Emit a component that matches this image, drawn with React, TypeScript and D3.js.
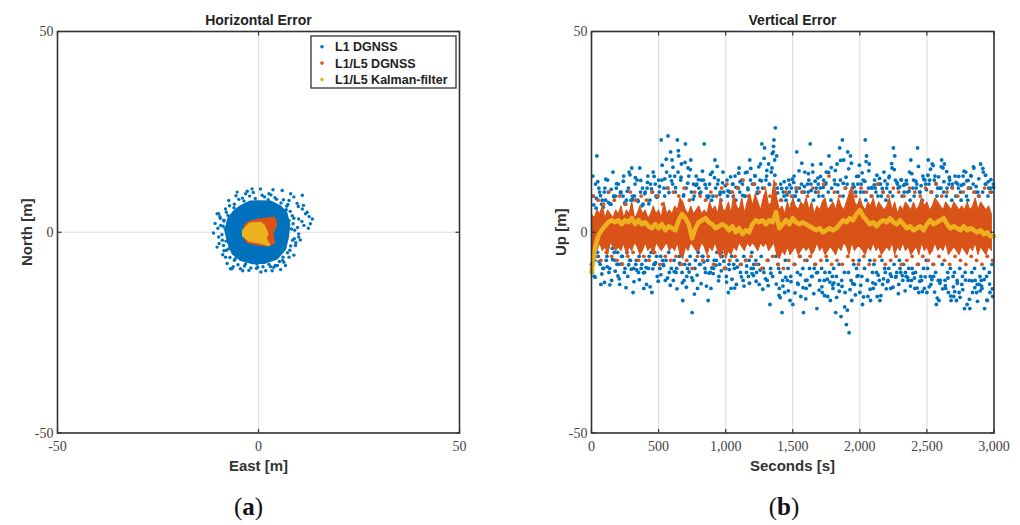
import React from "react";
import * as d3 from "d3";

const BLUE = "#0072BD";
const ORANGE = "#D95319";
const YELLOW = "#EDB120";
const AXIS = "#333333";
const GRID = "#dedede";

// ---------- (a) Horizontal error: [east, north] in metres ----------
const hAxisTicks = [-50, 0, 50];
const hBlueCore: [number, number][] = [
  [-4.3, 6.3], [-2.1, 7.4], [0.1, 7.5], [3.0, 7.4], [5.2, 6.3], [6.7, 4.8], [7.4, 1.9],
  [7.1, -1.1], [6.4, -4.1], [4.5, -6.3], [1.5, -7.4], [-1.4, -7.5], [-4.3, -6.7],
  [-6.2, -5.2], [-7.3, -2.6], [-8.0, 0.4], [-7.3, 3.3], [-5.9, 5.1],
];
const hBlueDots: [number, number][] = [
  [13.4, 3.3], [12.1, 5.0], [10.9, 9.2], [-10.3, 4.6], [-9.9, -1.2], [-6.6, -9.1], [-1.6, 10.8],
  [0.5, 10.8], [8.0, 9.6], [10.0, -1.2], [4.7, -8.3], [-5.3, 10.0], [5.9, 10.4], [8.8, 8.8],
  [-9.9, 4.6], [-8.6, 3.0], [-9.4, 1.7], [10.9, 5.8], [11.7, 4.6], [10.0, 3.3], [11.3, 1.7],
  [-10.3, -3.7], [-8.6, -4.6], [-8.2, -6.2], [-7.0, -9.1], [-4.5, -9.1], [-2.4, -9.5],
  [-0.2, -8.7], [4.2, -8.3], [6.3, -7.5], [7.6, -6.2], [9.2, -3.3], [10.0, -0.4], [-7.4, 7.9],
  [-8.2, 5.8], [-3.2, 9.6], [2.6, 9.6], [7.6, 7.9], [-6.0, 7.0], [-4.0, 8.5], [1.5, 8.8],
  [4.5, 8.2], [7.0, 6.5], [8.8, 3.5], [9.0, 0.5], [8.5, -2.0], [7.8, -4.5], [6.0, -7.0],
  [3.0, -8.6], [-0.5, -9.0], [-3.5, -8.4], [-6.0, -7.0], [-8.0, -4.5], [-9.0, -2.0],
  [-8.8, 1.5], [-8.0, 5.0], [-9.5, 3.5], [-10.8, 2.2], [9.6, 7.2], [12.4, 1.0], [5.5, -9.3],
  [-2.8, 10.2], [3.6, 10.6], [-7.8, -7.8], [1.8, -9.6], [-11.2, -0.2],
  [8.2, 0.8], [8.9, -1.6], [7.6, 2.9], [8.4, 4.1], [6.9, 5.6], [7.3, 6.9], [5.6, 7.3],
  [4.1, 8.6], [2.4, 8.1], [0.9, 9.2], [-0.8, 8.4], [-2.2, 9.0], [-3.6, 7.8], [-4.9, 8.2],
  [-6.1, 6.1], [-7.2, 6.6], [-7.6, 4.2], [-8.6, 2.8], [-8.3, 0.9], [-9.1, -0.6], [-8.1, -2.2],
  [-8.7, -3.3], [-7.4, -4.1], [-7.1, -6.3], [-5.8, -6.6], [-5.1, -8.1], [-3.2, -7.9],
  [-1.9, -8.9], [-0.4, -7.9], [1.1, -8.6], [2.6, -8.0], [3.8, -8.7], [5.2, -7.3], [6.1, -6.2],
  [7.2, -5.1], [8.0, -3.4], [8.6, 2.1], [9.7, 1.2], [9.3, -2.6], [7.9, 5.2], [6.2, 8.1],
  [3.1, 9.3], [-1.3, 9.9], [-5.6, 9.1], [-9.6, 3.9], [-10.1, 1.0], [-9.8, -2.8], [-8.9, -5.6],
  [-6.3, -8.6], [-3.9, -9.6], [0.6, -9.9], [3.4, -9.6], [6.7, -8.3], [8.8, -5.7], [10.4, -1.9],
  [10.8, 2.7], [9.9, 6.4], [11.2, 6.7], [12.6, 3.9], [12.9, 2.1],
];
const hOrangeCore: [number, number][] = [
  [-2.4, 2.5], [0.1, 3.1], [3.9, 3.6], [4.4, 2.1], [3.4, -0.4], [3.9, -2.5], [2.3, -3.3],
  [-0.6, -2.9], [-2.7, -2.5], [-3.7, -0.4], [-3.3, 1.7],
];
const hYellowCore: [number, number][] = [
  [-2.2, 2.1], [0.5, 2.3], [1.3, 1.7], [2.2, -0.4], [1.7, -1.6], [2.6, -3.1], [0.1, -2.5],
  [-2.2, -2.1], [-3.8, -0.8], [-3.8, 0.4], [-3.0, 1.2],
];

// ---------- (b) Vertical error ----------
const vXTicks = [0, 500, 1000, 1500, 2000, 2500, 3000];
const vYTicks = [-50, 0, 50];
// L1 DGNSS, samples every 10 s starting at 0 s
const blueA = [
  -8, 14, -11, 12, 19, -6, 10, -13, 8, -9,
  11, -7, 13, -10, 7, -12, 15, -5, 9, -8,
  12, -13, 10, -6, 14, -9, 8, -11, 15, -7,
  16, -15, 9, -8, 13, -10, 16, -9, 11, -14,
  10, -13, 14, -6, 12, -15, 15, -8, 9, -11,
  13, -9, 23, -7, 11, -12, 15, 24, -10, 20,
  18, -12, 14, -10, 23, 19, -8, 17, -17, -12,
  22, -11, 16, -8, 18, -20, 12, -9, 14, -14,
  11, -8, 13, -6, 22, -10, 9, -17, 12, -14,
  15, -9, 18, -7, 12, -11, 10, -5, 15, -4,
  -9, 13, -15, 10, -14, 12, -8, 14, -13, 11,
  16, -10, 13, -12, 9, -7, 15, -11, 18, -9,
  12, -8, 14, -10, 11, -13, 17, 22, -9, 21,
  13, -12, 17, -18, 15, -11, 23, 26, 19, -8,
  -14, 12, -20, 10, -15, 8, -12, 13, -17, 11,
  -18, 14, 9, 20, -13, 11, -16, 10, -20, 15,
  -14, 12, 13, 22, -11, 15, -9, 10, -19, 12,
  -12, 17, -15, 13, -10, 15, -16, 19, -17, 11,
  -14, 13, -20, 17, -13, 21, -21, 23, 18, -15,
  -23, 20, -25, 19, -17, 12, -13, 10, -11, 14,
  -15, 12, -18, 10, 23, 19, -16, 17, -17, 11,
  -14, 13, 10, -16, 12, -17, 9, -13, 15, -10,
  11, -12, 14, -14, 16, 21, 19, -11, 12, -13,
  -9, 13, -12, 10, -10, 12, -12, 15, 18, -9,
  13, -14, 11, 21, -15, 10, -12, 14, -14, 12,
  -15, 18, 13, -13, 17, -11, 14, -18, 11, -17,
  -12, 18, 16, 17, -14, 11, -15, 13, -17, 12,
  -16, 14, -17, 12, -15, 10, -13, 14, -19, 15,
  -18, 11, -19, 14, -15, 16, -12, -15, 10, -13,
  17, -14, 15, -19, 12, -17, 11, -15, 10, -16,
];
// L1 DGNSS, samples every 10 s starting at 5 s
const blueB = [
  -10, 9, -7, 6, -5, 11, -8, 7, -9, 10,
  8, -6, 10, -9, 7, -4, 9, -7, 11, -5,
  -8, 10, -6, 9, -10, 7, -5, 11, -7, 8,
  9, -9, 12, -7, 8, -6, 10, -8, 7, -10,
  -7, 11, -9, 8, -5, 10, -8, 12, -6, 9,
  10, -6, 13, -8, 9, -7, 11, -5, 14, -9,
  12, -7, 10, -9, 15, -6, 13, -10, 9, -8,
  11, -9, 14, -6, 10, -12, 9, -7, 12, -5,
  -8, 10, -6, 13, -9, 11, -7, 9, -10, 8,
  9, -7, 11, -5, 13, -8, 8, -6, 10, -9,
  -11, 9, -8, 10, -6, 12, -9, 8, -7, 11,
  10, -8, 12, -6, 9, -10, 11, -7, 13, -5,
  -9, 12, -7, 10, -8, 13, -6, 11, -10, 9,
  14, -7, 12, -9, 16, 20, 18, -6, 11, -9,
  -10, 8, -12, 9, -7, 11, -9, 10, -11, 7,
  9, -8, 11, -10, 8, -6, 12, -9, 10, -12,
  -7, 10, -9, 12, -11, 8, -8, 11, -10, 9,
  11, -9, 9, -12, 12, -7, 10, -10, 8, -11,
  -9, 12, -11, 10, -8, 13, -12, 9, -10, 11,
  12, -10, 9, -12, 11, -8, 10, -9, 12, -7,
  10, -11, 13, -9, 8, -12, 11, -7, 9, -10,
  -8, 11, -10, 9, -12, 12, -7, 10, -9, 8,
  12, -9, 10, -11, 9, -8, 13, -10, 11, -7,
  -10, 9, -8, 12, -11, 10, -9, 8, -12, 11,
  9, -10, 12, -8, 10, -11, 8, -9, 13, -7,
  -9, 12, -11, 10, -8, 13, -10, 9, -12, 11,
  11, -8, 10, -12, 9, -10, 12, -9, 8, -11,
  -10, 9, -12, 11, -9, 8, -11, 12, -10, 9,
  8, -12, 11, -10, 12, -9, 10, -13, 9, -11,
  -12, 10, -9, 12, -11, 9, -10, 11, -8, 12,
];
// L1 DGNSS, samples every 10 s starting at 7 s
const blueC = [
  -9.5, 6.8, -11.2, 8.4, 12.6, -7.3, 9.1, -10.4, 6.2, -12.5,
  13.2, -8.6, 7.4, -13.1, 10.7, -6.8, 8.9, -9.7, 12.1, -10.9,
  -11.6, 9.8, -7.9, 12.7, 7.3, -13.8, 10.2, -8.1, 14.3, -9.2,
  8.1, -12.3, 13.6, -9.4, 7.7, -11.8, 12.9, 6.6, -10.1, 9.6,
  -8.8, 12.4, 7.1, -13.6, 10.8, -9.1, 13.9, -7.6, 8.7, -12.2,
  11.4, -10.6, 16.7, -8.3, 13.3, 18.2, -11.4, 9.9, -13.2, 12.8,
  16.2, -9.8, 11.1, -14.1, 20.3, -7.7, 13.7, -12.6, 9.3, 17.4,
  -13.7, 12.2, -9.9, 15.6, -11.3, 8.2, -15.4, 11.7, -10.7, 13.1,
  9.7, -12.8, 15.2, -7.4, 11.9, -13.4, 8.6, -10.2, 14.4, -8.9,
  -10.3, 13.6, -8.2, 16.4, -12.1, 9.4, -9.6, 12.3, -7.2, 11.6,
  -12.4, 10.3, -9.3, 13.8, -11.7, 8.9, -13.9, 11.2, -8.7, 14.7,
  12.6, -11.1, 9.2, -13.4, 14.8, -8.4, 10.6, -12.7, 15.9, -10.3,
  -10.8, 14.1, -12.2, 9.7, 16.3, -9.4, 12.8, -14.2, 18.4, -11.6,
  15.4, -13.3, 11.9, -10.2, 19.6, 21.4, 14.2, -12.9, 9.8, -15.7,
  -16.3, 10.9, -13.4, 12.6, -11.2, 9.3, -14.6, 11.8, -12.3, 13.2,
  12.4, -15.1, 10.1, -12.7, 15.3, -10.6, 17.2, -13.8, 11.4, -16.6,
  -11.9, 14.6, -13.2, 10.4, 16.8, -15.3, 12.7, -10.1, 13.5, -14.4,
  13.9, -13.6, 11.2, -15.8, 12.3, -11.7, 14.9, -12.4, 16.1, -13.1,
  -12.6, 15.4, -16.2, 11.8, -14.7, 17.9, -13.5, 12.2, -18.6, 13.7,
  -19.4, 15.8, -14.3, 17.2, -12.8, 11.3, -15.6, 13.9, -10.8, 16.7,
  -13.2, 14.8, -16.1, 12.7, 17.6, -11.9, 15.3, -14.2, 11.1, -12.6,
  11.8, -12.9, 14.2, -10.7, 13.4, -15.8, 10.9, -11.6, 12.8, -14.1,
  -12.3, 13.6, -10.4, 17.1, -13.7, 15.6, -11.2, 12.4, -15.3, 11.3,
  13.1, -10.8, 11.7, -14.6, 12.9, -11.3, 10.2, -13.4, 14.6, -10.2,
  -11.4, 12.7, -13.9, 16.4, -12.2, 11.6, -14.8, 13.2, -11.1, 10.6,
  14.2, -13.6, 15.7, -11.8, 16.6, -14.9, 12.1, -16.4, 13.8, -12.7,
  16.3, -14.1, 12.6, -13.3, 15.1, -11.4, 13.7, -15.9, 11.2, -13.6,
  -14.8, 12.4, -12.7, 13.9, -16.2, 11.7, -14.3, 15.2, -11.9, 12.8,
  12.9, -16.7, 14.1, -12.1, 16.3, -13.8, 11.4, -17.2, 13.3, -14.6,
  -13.4, 15.9, -11.8, 14.2, -16.9, 12.6, -12.9, 13.1, -14.1, 11.2,
];
// L1/L5 DGNSS dense band: upper / lower edges every 20 s
const orangeHi = [
  4.5, 3.5, 5.5, 4.5, 6.5, 3.5, 5.5, 4.5, 3.5, 5.5,
  4.5, 6.5, 3.5, 5.5, 4.5, 7.5, 3.5, 4.5, 6.5, 4.5,
  5.5, 3.5, 4.5, 6.5, 4.5, 5.5, 3.5, 7.5, 4.5, 5.5,
  4.5, 6.5, 5.5, 8.5, 7.5, 5.5, 4.5, 6.5, 4.5, 5.5,
  6.5, 4.5, 5.5, 4.5, 7.5, 5.5, 6.5, 4.5, 8.5, 5.5,
  5.5, 7.5, 4.5, 9.5, 6.5, 5.5, 8.5, 4.5, 7.5, 9.5,
  6.5, 9.5, 7.5, 5.5, 8.5, 10.5, 6.5, 7.5, 13, 8.5,
  5.5, 6.5, 4.5, 7.5, 5.5, 8.5, 6.5, 5.5, 7.5, 6.5,
  8.5, 5.5, 7.5, 4.5, 6.5, 5.5, 7.5, 8.5, 5.5, 6.5,
  7.5, 5.5, 8.5, 6.5, 5.5, 7.5, 9.5, 11.5, 7.5, 6.5,
  8.5, 6.5, 5.5, 7.5, 6.5, 8.5, 5.5, 7.5, 6.5, 5.5,
  6.5, 8.5, 5.5, 7.5, 4.5, 6.5, 5.5, 7.5, 6.5, 5.5,
  7.5, 5.5, 6.5, 8.5, 6.5, 7.5, 5.5, 6.5, 8.5, 7.5,
  6.5, 5.5, 7.5, 6.5, 5.5, 7.5, 6.5, 5.5, 6.5, 5.5,
  7.5, 5.5, 6.5, 8.5, 5.5, 7.5, 6.5, 5.5, 6.5, 4.5,
];
const orangeLo = [
  -5.5, -3.5, -4.5, -2.5, -4.5, -3.5, -5.5, -2.5, -3.5, -4.5,
  -3.5, -4.5, -2.5, -5.5, -3.5, -4.5, -2.5, -3.5, -5.5, -4.5,
  -2.5, -4.5, -3.5, -5.5, -2.5, -3.5, -4.5, -3.5, -2.5, -4.5,
  -3.5, -4.5, -2.5, -5.5, -6.5, -3.5, -4.5, -2.5, -3.5, -4.5,
  -4.5, -2.5, -3.5, -5.5, -3.5, -4.5, -2.5, -4.5, -6.5, -3.5,
  -6.5, -4.5, -5.5, -3.5, -4.5, -2.5, -3.5, -4.5, -2.5, -3.5,
  -2.5, -3.5, -4.5, -2.5, -3.5, -2.5, -4.5, -3.5, -2.5, -5.5,
  -6.5, -4.5, -5.5, -3.5, -5.5, -4.5, -3.5, -5.5, -4.5, -3.5,
  -4.5, -3.5, -5.5, -4.5, -2.5, -4.5, -3.5, -5.5, -4.5, -3.5,
  -4.5, -5.5, -3.5, -4.5, -2.5, -3.5, -5.5, -2.5, -4.5, -3.5,
  -3.5, -4.5, -5.5, -3.5, -4.5, -2.5, -4.5, -3.5, -5.5, -4.5,
  -3.5, -4.5, -2.5, -5.5, -3.5, -4.5, -2.5, -4.5, -3.5, -5.5,
  -4.5, -3.5, -5.5, -2.5, -4.5, -3.5, -5.5, -4.5, -2.5, -4.5,
  -3.5, -4.5, -2.5, -5.5, -4.5, -3.5, -4.5, -5.5, -3.5, -4.5,
  -5.5, -3.5, -4.5, -2.5, -5.5, -3.5, -4.5, -5.5, -3.5, -4.5,
];
// L1/L5 DGNSS spikes, every 20 s starting at 10 s
const orangeDots = [
  9, -6, 8, -7, 7, -5, 10, -6, 8, -7,
  9, -8, 7, -6, 10, -5, 8, -7, 9, -6,
  8, -7, 10, -5, 9, -8, 7, -6, 11, -7,
  10, -6, 9, -8, 11, -7, 8, -9, 10, -6,
  9, -7, 8, -6, 10, -8, 9, -5, 11, -9,
  12, -7, 10, -6, 11, -8, 13, -7, 9, -6,
  12, -8, 10, -9, 11, -7, 9, -6, 12, -8,
  8, -9, 10, -7, 9, -8, 11, -6, 10, -7,
  9, -6, 11, -8, 10, -7, 12, -6, 14, -8,
  10, -7, 9, -8, 11, -6, 10, -7, 9, -8,
  11, -6, 10, -8, 9, -7, 12, -6, 10, -8,
  9, -7, 11, -6, 10, -8, 9, -7, 11, -6,
  10, -8, 9, -6, 11, -7, 10, -8, 12, -6,
  9, -7, 10, -8, 11, -6, 9, -7, 10, -8,
  11, -6, 10, -7, 9, -8, 11, -6, 10, -7,
];
// L1/L5 Kalman-filter, every 25 s
const kalman = [
  -10, -4, -1, 0.5, 1.5, 2.5, 3, 2.5, 3, 2, 3, 2.5, 3.5, 2, 3, 2, 2.5, 1.5, 1, 2,
  1, 2, 0.5, 1.5, 1, 0.5, 3, 4.5, 3.5, 2, -1.5, 1, 2.5, 3, 3.5, 2.5, 2, 1, 1.5, 2,
  1.5, 0.5, 1.5, 0, 1, -0.5, 0.5, 0, 2, 3, 2.5, 3, 2, 3, 2.5, 5, 1, 2, 3, 2,
  3.5, 2.5, 2, 2.5, 2, 1.5, 1, 0.5, 1, 0, 0.5, 1, 0.5, 1, 2, 3, 2.5, 3.5, 3, 4.5,
  5.5, 4, 3, 2, 2.5, 1.5, 2.5, 3, 2.5, 3.5, 2.5, 2, 3, 2, 1, 1.5, 0.5, 1, 1.5, 0.5,
  2, 3, 2, 2.5, 3, 3.5, 2, 1, 1.5, 1, 0.5, 1.5, 0.5, 1, 0.5, 0, 0.5, -0.5, 0, -1, -1,
];

const legendItems = [
  { label: "L1 DGNSS", color: BLUE },
  { label: "L1/L5 DGNSS", color: ORANGE },
  { label: "L1/L5 Kalman-filter", color: YELLOW },
];

const SANS = "Liberation Sans, Arial, Helvetica, sans-serif";
const SERIF = "Liberation Serif, Times New Roman, serif";

function Frame({ x0, x1, y0, y1 }: { x0: number; x1: number; y0: number; y1: number }) {
  return (
    <rect x={x0} y={y0} width={x1 - x0} height={y1 - y0} fill="none" stroke={AXIS} strokeWidth={1.6} />
  );
}

export default function App() {
  // panel (a)
  const xH = d3.scaleLinear().domain([-50, 50]).range([57.5, 459.5]);
  const yH = d3.scaleLinear().domain([-50, 50]).range([433, 31.5]);
  // panel (b)
  const xV = d3.scaleLinear().domain([0, 3000]).range([591.5, 994]);
  const yV = d3.scaleLinear().domain([-50, 50]).range([433, 31.5]);

  const polyH = d3
    .line<[number, number]>()
    .x((d) => xH(d[0]))
    .y((d) => yH(d[1]))
    .curve(d3.curveLinearClosed);

  const orangeArea = d3
    .area<number>()
    .x((_, i) => xV(i * 20))
    .y0((_, i) => yV(orangeLo[i]))
    .y1((d) => yV(d));

  const kalmanLine = d3
    .line<number>()
    .x((_, i) => xV(i * 25))
    .y((d) => yV(d));

  const fmt = d3.format(",");
  const tick = 4;

  return (
    <svg
      width={1020}
      height={525}
      style={{ position: "absolute", left: 0, top: 0, background: "#fff" }}
    >
      <rect x={0} y={0} width={1020} height={525} fill="#fff" />

      {/* ================= Panel (a) ================= */}
      <g>
        <line x1={xH(0)} x2={xH(0)} y1={yH(-50)} y2={yH(50)} stroke={GRID} strokeWidth={1.2} />
        <line x1={xH(-50)} x2={xH(50)} y1={yH(0)} y2={yH(0)} stroke={GRID} strokeWidth={1.2} />

        <path d={polyH(hBlueCore) || ""} fill={BLUE} stroke={BLUE} strokeWidth={4} strokeLinejoin="round" />
        {hBlueDots.map((d, i) => (
          <circle key={"hb" + i} cx={xH(d[0])} cy={yH(d[1])} r={1.7} fill={BLUE} />
        ))}
        <path d={polyH(hOrangeCore) || ""} fill={ORANGE} stroke={ORANGE} strokeWidth={2.5} strokeLinejoin="round" />
        <path d={polyH(hYellowCore) || ""} fill={YELLOW} stroke={YELLOW} strokeWidth={2.5} strokeLinejoin="round" />

        <Frame x0={xH(-50)} x1={xH(50)} y0={yH(50)} y1={yH(-50)} />
        {hAxisTicks.map((t) => (
          <g key={"hxt" + t}>
            <line x1={xH(t)} x2={xH(t)} y1={yH(-50)} y2={yH(-50) - tick} stroke={AXIS} strokeWidth={1.2} />
            <line x1={xH(t)} x2={xH(t)} y1={yH(50)} y2={yH(50) + tick} stroke={AXIS} strokeWidth={1.2} />
            <line y1={yH(t)} y2={yH(t)} x1={xH(-50)} x2={xH(-50) + tick} stroke={AXIS} strokeWidth={1.2} />
            <line y1={yH(t)} y2={yH(t)} x1={xH(50)} x2={xH(50) - tick} stroke={AXIS} strokeWidth={1.2} />
            <text x={xH(t)} y={451} textAnchor="middle" fontFamily={SERIF} fontSize={14} fill="#444">
              {t}
            </text>
            <text x={xH(-50) - 4} y={yH(t) + 4.5} textAnchor="end" fontFamily={SERIF} fontSize={14} fill="#444">
              {t}
            </text>
          </g>
        ))}

        <rect x={311} y={36} width={145} height={52} fill="#fff" stroke={AXIS} strokeWidth={1.3} />
        {legendItems.map((it, i) => (
          <g key={"lg" + i}>
            <circle cx={322} cy={46.7 + i * 16.4} r={1.8} fill={it.color} />
            <text
              x={335}
              y={46.7 + i * 16.4 + 4.5}
              fontFamily={SANS}
              fontWeight="bold"
              fontSize={12.5}
              fill="#222"
            >
              {it.label}
            </text>
          </g>
        ))}

        <text x={258.5} y={25} textAnchor="middle" fontFamily={SANS} fontWeight="bold" fontSize={14} fill="#222">
          Horizontal Error
        </text>
        <text x={258.5} y={471} textAnchor="middle" fontFamily={SANS} fontWeight="bold" fontSize={15} fill="#333">
          East [m]
        </text>
        <text
          transform={`translate(32,${yH(0)}) rotate(-90)`}
          textAnchor="middle"
          fontFamily={SANS}
          fontWeight="bold"
          fontSize={15}
          fill="#333"
        >
          North [m]
        </text>
        <text x={248.5} y={515} textAnchor="middle" fontFamily={SERIF} fontSize={25} fill="#111">
          (<tspan fontWeight="bold">a</tspan>)
        </text>
      </g>

      {/* ================= Panel (b) ================= */}
      <g>
        {vXTicks.slice(1, -1).map((t) => (
          <line key={"vg" + t} x1={xV(t)} x2={xV(t)} y1={yV(-50)} y2={yV(50)} stroke={GRID} strokeWidth={1.2} />
        ))}
        <line x1={xV(0)} x2={xV(3000)} y1={yV(0)} y2={yV(0)} stroke={GRID} strokeWidth={1.2} />

        {blueA.map((v, i) => (
          <circle key={"ba" + i} cx={xV(i * 10)} cy={yV(v)} r={1.9} fill={BLUE} />
        ))}
        {blueB.map((v, i) => (
          <circle key={"bb" + i} cx={xV(i * 10 + 5)} cy={yV(v)} r={1.9} fill={BLUE} />
        ))}
        {blueC.map((v, i) => (
          <circle key={"bc" + i} cx={xV(i * 10 + 7)} cy={yV(v)} r={1.9} fill={BLUE} />
        ))}
        <path d={orangeArea(orangeHi) || ""} fill={ORANGE} stroke={ORANGE} strokeWidth={1.2} strokeLinejoin="round" />
        {orangeDots.map((v, i) => (
          <circle key={"od" + i} cx={xV(i * 20 + 10)} cy={yV(v)} r={1.9} fill={ORANGE} />
        ))}
        <path d={kalmanLine(kalman) || ""} fill="none" stroke={YELLOW} strokeWidth={4.5} strokeLinejoin="round" strokeLinecap="round" />

        <Frame x0={xV(0)} x1={xV(3000)} y0={yV(50)} y1={yV(-50)} />
        {vXTicks.map((t) => (
          <g key={"vxt" + t}>
            <line x1={xV(t)} x2={xV(t)} y1={yV(-50)} y2={yV(-50) - tick} stroke={AXIS} strokeWidth={1.2} />
            <line x1={xV(t)} x2={xV(t)} y1={yV(50)} y2={yV(50) + tick} stroke={AXIS} strokeWidth={1.2} />
            <text x={xV(t)} y={451} textAnchor="middle" fontFamily={SERIF} fontSize={14} fill="#444">
              {fmt(t)}
            </text>
          </g>
        ))}
        {vYTicks.map((t) => (
          <g key={"vyt" + t}>
            <line y1={yV(t)} y2={yV(t)} x1={xV(0)} x2={xV(0) + tick} stroke={AXIS} strokeWidth={1.2} />
            <line y1={yV(t)} y2={yV(t)} x1={xV(3000)} x2={xV(3000) - tick} stroke={AXIS} strokeWidth={1.2} />
            <text x={xV(0) - 4} y={yV(t) + 4.5} textAnchor="end" fontFamily={SERIF} fontSize={14} fill="#444">
              {t}
            </text>
          </g>
        ))}

        <text x={792.5} y={25} textAnchor="middle" fontFamily={SANS} fontWeight="bold" fontSize={14} fill="#222">
          Vertical Error
        </text>
        <text x={792.5} y={471} textAnchor="middle" fontFamily={SANS} fontWeight="bold" fontSize={15} fill="#333">
          Seconds [s]
        </text>
        <text
          transform={`translate(566,${yV(0)}) rotate(-90)`}
          textAnchor="middle"
          fontFamily={SANS}
          fontWeight="bold"
          fontSize={15}
          fill="#333"
        >
          Up [m]
        </text>
        <text x={784} y={515} textAnchor="middle" fontFamily={SERIF} fontSize={25} fill="#111">
          (<tspan fontWeight="bold">b</tspan>)
        </text>
      </g>
    </svg>
  );
}
